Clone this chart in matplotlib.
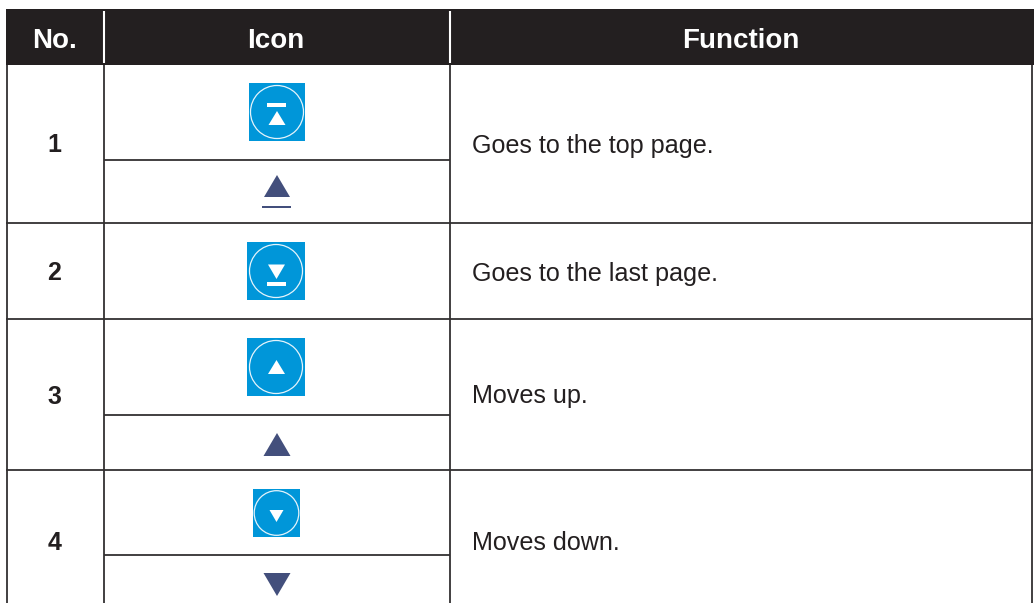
import matplotlib.pyplot as plt
from matplotlib.patches import Rectangle, Circle, Polygon

plt.rcParams['font.family'] = ['Liberation Sans', 'DejaVu Sans']

headers = ["No.", "Icon", "Function"]
numbers = ["1", "2", "3", "4"]
functions = ["Goes to the top page.", "Goes to the last page.", "Moves up.", "Moves down."]

INK = "#231f20"
BLUE = "#0096d9"
NAVY = "#434f7c"


def tri(ax, cx, ytip, ybase, half, color):
    ax.add_patch(Polygon([(cx, ytip), (cx - half, ybase), (cx + half, ybase)],
                         closed=True, fc=color, ec="none", zorder=4))


def blue_button(ax, x0, x1, y0, y1, r):
    # blue square with a thin white ring, same look on all four
    ax.add_patch(Rectangle((x0, y0), x1 - x0, y1 - y0, fc=BLUE, ec="none", zorder=2))
    cx, cy = (x0 + x1) / 2, (y0 + y1) / 2
    ax.add_patch(Circle((cx, cy), r, fc="none", ec="#e4f3fb", lw=0.9, zorder=3))


fig = plt.figure(figsize=(10.34, 6.03), dpi=100)
ax = fig.add_axes([0, 0, 1, 1])
ax.set_xlim(0, 1034)
ax.set_ylim(603, 0)
ax.axis("off")

# header band
ax.add_patch(Rectangle((6, 9), 1028, 56, fc=INK, ec="none", zorder=1))
for x in (103.5, 449.5):
    ax.plot([x, x], [11, 63], color="white", lw=1.5, zorder=2, solid_capstyle="butt")
for x, label in zip((55, 276, 741), headers):
    ax.text(x, 48.5, label, color="white", fontsize=20, fontweight="bold",
            ha="center", va="baseline", zorder=3)

# grid
for x in (6.5, 103.5, 449.5, 1032):
    ax.plot([x, x], [65, 603], color="#333031", lw=1.3, zorder=1, solid_capstyle="butt")
for y in (223, 319, 470):
    ax.plot([6, 1033], [y, y], color="#333031", lw=1.3, zorder=1, solid_capstyle="butt")
for y in (160, 415, 555):
    ax.plot([103.5, 449.5], [y, y], color="#333031", lw=1.3, zorder=1, solid_capstyle="butt")

# row text
for y, n, f in zip((152.5, 280.5, 403.5, 549.5), numbers, functions):
    ax.text(54.5, y, n, color=INK, fontsize=18, fontweight="bold", ha="center", va="baseline")
    ax.text(472, y, f, color=INK, fontsize=18.1, ha="left", va="baseline")

# row 1 icons
blue_button(ax, 249, 305, 83, 141, 26.5)
ax.add_patch(Rectangle((267, 103), 19, 4, fc="white", ec="none", zorder=4))
tri(ax, 277, 111, 125, 8.5, "white")
tri(ax, 277, 175, 197, 13, NAVY)
ax.add_patch(Rectangle((262, 205.5), 29, 2, fc=NAVY, ec="none", zorder=4))

# row 2
blue_button(ax, 247, 305, 242, 300, 26.5)
tri(ax, 276.5, 279, 264.5, 8.5, "white")
ax.add_patch(Rectangle((267, 282), 19, 4, fc="white", ec="none", zorder=4))

# row 3
blue_button(ax, 247, 305, 338, 396, 26.5)
tri(ax, 276.5, 360, 374, 8.5, "white")
tri(ax, 277, 433, 456, 13.5, NAVY)

# row 4
blue_button(ax, 253, 300, 489, 537, 22.3)
tri(ax, 276.5, 522, 510, 7, "white")
tri(ax, 277, 596, 573, 13.5, NAVY)

fig.savefig("out.png", dpi=100, facecolor="white")
